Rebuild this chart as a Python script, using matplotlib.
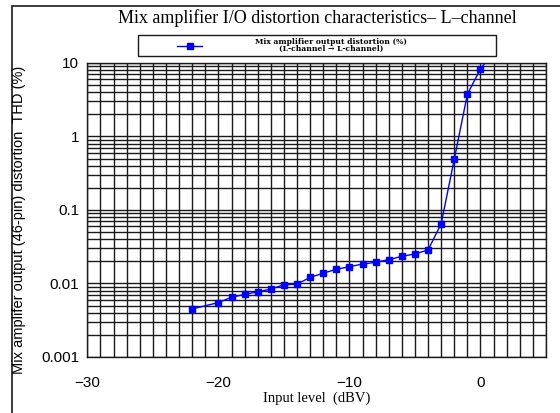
import numpy as np
import matplotlib
matplotlib.use("Agg")
import matplotlib.pyplot as plt
from matplotlib.patches import Rectangle
from matplotlib.lines import Line2D
from matplotlib.ticker import LogLocator, FixedLocator, NullFormatter

# Input level (dBV) and THD (%)
input_level = [-22, -20, -19, -18, -17, -16, -15, -14, -13, -12, -11, -10,
               -9, -8, -7, -6, -5, -4, -3, -2, -1, 0, 1]
thd = [0.0045, 0.0055, 0.0065, 0.0071, 0.0077, 0.0084, 0.0096, 0.0098,
       0.0121, 0.0138, 0.0156, 0.0169, 0.0184, 0.0194, 0.0211, 0.0234,
       0.0252, 0.0286, 0.065, 0.49, 3.75, 8.3, 14.0]
n_markers = 22  # last point lies outside the plot, only the line reaches it

x_ticks = [-30, -20, -10, 0]
y_ticks = [0.001, 0.01, 0.1, 1, 10]
y_labels = ["0.001", "0.01", "0.1", "1", "10"]

fig = plt.figure(figsize=(5.6, 4.13), dpi=100)
ax = fig.add_axes([0.156, 0.1356, 0.819, 0.712])

ax.plot(input_level, thd, color="#0000ff", lw=1.0, marker="s", markersize=4,
        markevery=list(range(n_markers)), zorder=3)

ax.set_yscale("log")
ax.set_xlim(-30, 5)
ax.set_ylim(0.001, 10)

ax.set_xticks(x_ticks)
ax.xaxis.set_minor_locator(FixedLocator(np.arange(-30, 6, 1)))
ax.set_yticks(y_ticks)
ax.set_yticklabels(y_labels)
ax.yaxis.set_minor_locator(LogLocator(base=10, subs=np.arange(2, 10)))
ax.yaxis.set_minor_formatter(NullFormatter())

ax.grid(True, which="both", color="#1a1a1a", lw=1.0)
ax.tick_params(which="both", length=0, labelsize=11)
ax.tick_params(axis="x", pad=14)
ax.tick_params(axis="y", pad=6)
for lab in ax.get_xticklabels() + ax.get_yticklabels():
    lab.set_family("Liberation Sans")
for sp in ax.spines.values():
    sp.set_color("#1a1a1a")
    sp.set_linewidth(1.0)

ax.set_xlabel("Input level  (dBV)", family="Liberation Serif", fontsize=10.5, labelpad=1)
fig.text(0.034, 0.467, "Mix amplifer output (46-pin) distortion  THD (%)",
         rotation=90, ha="center", va="center", family="Liberation Sans", fontsize=10.5)

fig.text(0.566, 0.957, "Mix amplifier I/O distortion characteristics\u2013 L\u2013channel",
         ha="center", va="center", family="Liberation Serif", fontsize=13)

# legend box
leg_y = 1 - 45.5 / 413
fig.patches.append(Rectangle((138 / 560, 1 - 56 / 413), (496 - 138) / 560, 21 / 413,
                             transform=fig.transFigure, fill=False,
                             edgecolor="#1a1a1a", lw=1.0))
fig.lines.append(Line2D([177 / 560, 202 / 560], [leg_y, leg_y],
                        transform=fig.transFigure, color="#0000ff", lw=1.0))
fig.lines.append(Line2D([189.5 / 560], [leg_y], transform=fig.transFigure,
                        color="#0000ff", marker="s", markersize=4, lw=0))
fig.text(331 / 560, leg_y,
         "Mix amplifier output distortion (%)\n(L-channel \u2192 L-channel)",
         ha="center", va="center", family="DejaVu Serif", fontsize=5.5,
         fontweight="bold", linespacing=0.85)

# outer frame
fig.patches.append(Rectangle((12 / 560, -0.05), 1.0, 1 - 6 / 413 + 0.05,
                             transform=fig.transFigure, fill=False,
                             edgecolor="#1a1a1a", lw=1.2))

fig.savefig("out.png", dpi=100)
